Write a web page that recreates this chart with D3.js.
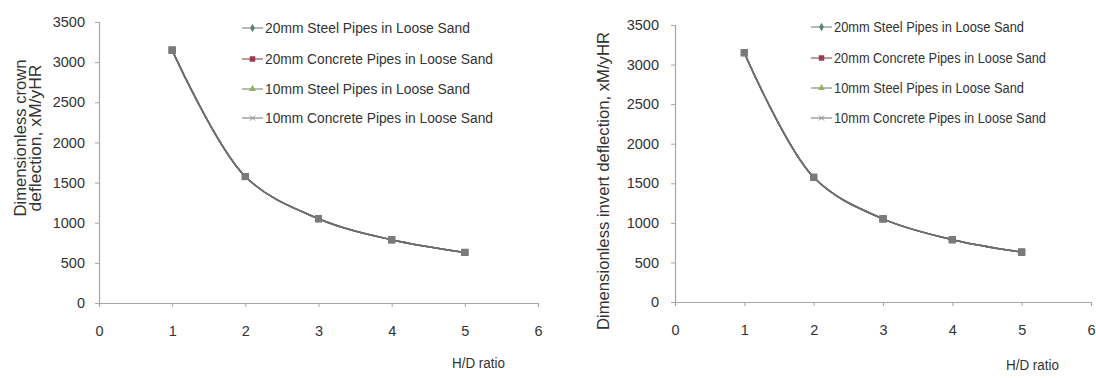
<!DOCTYPE html>
<html><head><meta charset="utf-8">
<script src="https://cdn.jsdelivr.net/npm/d3@7"></script>
<style>
body{margin:0;background:#fff;}
svg text{font-family:"Liberation Sans",Arial,sans-serif;fill:#333;}
</style></head>
<body><svg id="c" width="1096" height="378"></svg>
<script>
const hdRatio = [1, 2, 3, 4, 5];
const steel20 = [3150, 1575, 1050, 787.5, 630];
const concrete20 = [3150, 1575, 1050, 787.5, 630];
const steel10 = [3150, 1575, 1050, 787.5, 630];
const concrete10 = [3150, 1575, 1050, 787.5, 630];
const seriesNames = ["20mm Steel Pipes in Loose Sand","20mm Concrete Pipes in Loose Sand","10mm Steel Pipes in Loose Sand","10mm Concrete Pipes in Loose Sand"];
const xTicks = [0,1,2,3,4,5,6];
const yTicks = [0,500,1000,1500,2000,2500,3000,3500];
const leftTitle = ["Dimensionless crown","deflection, xM/yHR"];
const rightTitle = ["Dimensionless invert deflection, xM/yHR"];
const xTitle = "H/D ratio";

const series = [
  {name: seriesNames[0], values: steel20, color: "#5f7f7c", sym: d3.symbolDiamond},
  {name: seriesNames[1], values: concrete20, color: "#9b3b4c", sym: d3.symbolSquare},
  {name: seriesNames[2], values: steel10, color: "#8db35d", sym: d3.symbolTriangle},
  {name: seriesNames[3], values: concrete10, color: "#8a8a8a", sym: "x"}
];

const svg = d3.select("#c");

function drawChart(cfg){
  const g = svg.append("g");
  const x = d3.scaleLinear().domain([0,6]).range([cfg.x0, cfg.x1]);
  const y = d3.scaleLinear().domain([0,3500]).range([cfg.y0, cfg.y1]);

  const xa = g.append("g").attr("transform",`translate(0,${cfg.y0})`)
    .call(d3.axisBottom(x).tickValues(xTicks).tickSize(4).tickPadding(19).tickFormat(d3.format("d")));
  const ya = g.append("g").attr("transform",`translate(${cfg.x0},0)`)
    .call(d3.axisLeft(y).tickValues(yTicks).tickSize(4).tickPadding(cfg.ypad).tickFormat(d3.format("d")));
  [xa,ya].forEach(a=>{
    a.select(".domain").attr("stroke","#a6a6a6").attr("stroke-width",1.2);
    a.selectAll(".tick line").attr("stroke","#a6a6a6");
    a.selectAll(".tick text").style("font-size","14.5px").attr("fill","#3a3a3a");
  });

  const line = d3.line().x((d,i)=>x(hdRatio[i])).y(d=>y(d)).curve(d3.curveCatmullRom.alpha(0.5));
  series.forEach(s=>{
    g.append("path").attr("d",line(s.values)).attr("fill","none").attr("stroke","#6e6e6e").attr("stroke-width",1.5);
  });
  series.forEach(s=>{
    g.selectAll(null).data(s.values).enter().append("rect")
      .attr("x",(d,i)=>x(hdRatio[i])-3.5).attr("y",d=>y(d)-3.5)
      .attr("width",7).attr("height",7).attr("fill","#7a7a7a").attr("opacity",0.9);
  });

  // legend
  series.forEach((s,i)=>{
    const ly = cfg.legY[i];
    const lg = g.append("g");
    lg.append("line").attr("x1",cfg.legX).attr("x2",cfg.legX+21).attr("y1",ly).attr("y2",ly)
      .attr("stroke", i===1? "#8a5a60" : "#8a8a8a").attr("stroke-width",1.2);
    const mx = cfg.legX+10.5;
    if(s.sym==="x"){
      lg.append("path").attr("d",`M${mx-2.5},${ly-2.5}L${mx+2.5},${ly+2.5}M${mx-2.5},${ly+2.5}L${mx+2.5},${ly-2.5}`)
        .attr("stroke",s.color).attr("stroke-width",1);
    } else {
      lg.append("path").attr("d",d3.symbol().type(s.sym).size(i===1?30:20)())
        .attr("transform",`translate(${mx},${ly})`).attr("fill",s.color);
    }
    const tx = lg.append("text").attr("x",cfg.legX+23).attr("y",ly).attr("dy","0.36em")
      .style("font-size",cfg.legFont+"px").text(s.name);
    tx.attr("textLength", cfg.legLen[i]).attr("lengthAdjust","spacingAndGlyphs");
  });

  // y title
  const t = g.append("text").attr("transform",`translate(${cfg.titX},${cfg.titY}) rotate(-90)`)
    .attr("text-anchor","middle").style("font-size","16px");
  cfg.title.forEach((ln,i)=>{
    t.append("tspan").attr("x",0).attr("dy", i===0 ? 0 : 15).text(ln)
      .attr("textLength", cfg.titLen[i]).attr("lengthAdjust","spacingAndGlyphs");
  });
  g.append("text").attr("x",cfg.xtX).attr("y",cfg.xtY).style("font-size","14px")
    .attr("textLength",53).attr("lengthAdjust","spacingAndGlyphs").text(xTitle);
}

drawChart({x0:99, x1:538, y0:303, y1:22, ypad:10, legX:242, legY:[28,59,89,118], legFont:14,
  legLen:[205,228,205,228],
  title:leftTitle, titLen:[157,147], titX:26, titY:138, xtX:452, xtY:368});
drawChart({x0:675, x1:1091, y0:302, y1:25, ypad:12, legX:811, legY:[27,58,88,118], legFont:14,
  legLen:[190,212,190,212],
  title:rightTitle, titLen:[298], titX:609, titY:181, xtX:1006, xtY:370});
</script></body></html>
